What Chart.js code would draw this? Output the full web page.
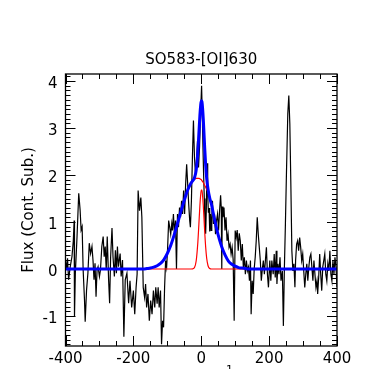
<!DOCTYPE html>
<html><head><meta charset="utf-8">
<script src="https://cdn.jsdelivr.net/npm/chart.js@4"></script>
<style>html,body{margin:0;padding:0;background:#fff}#wrap{width:377px;height:369px}</style>
</head><body><div id="wrap"><canvas id="c" width="377" height="369"></canvas></div>
<script>
const chartTitle = 'SO583-[OI]630';
const yTitle = 'Flux (Cont. Sub.)';
const xTitleMain = 'Velocity (km s';
const xTitleSup = '-1';
const xTickValues = [-400, -200, 0, 200, 400];
const yTickValues = [-1, 0, 1, 2, 3, 4];
const xRange = [-400, 400];
const yRange = [-1.638, 4.149];

const spectrumVel = [
-400,-397,-394,-391,-386,-381,-377,-374.5,-373.5,-371,-366,-361,-357,-354,-351,-348,-344,-342,-338,-334,
-330,-326,-322,-319,-316,-313,-310,-307,-304,-300,-297,-293,-289,-286,-283,-280,-277,-273,-270,-267,
-263,-260,-256,-253,-250,-247,-244,-239,-236,-232,-228,-224,-219,-214,
-210,-205,-200,-196,-192,-189,-186,-182,-178,-175,-171,-167,-164,-161,-157,-153,-149,-145,-141,-137,
-134,-130,-127,-124,-120,-117,-114,-111,-108,-105,-102,-99,-96,-93,-90,-87,-85,-82,-79,-76,
-73,-70,-67,-64,-61,-58,-55,-52,-49,-46,-43,-40,-37,-34,-32,-29,-26,-23,-20,-17,
-14,-11,-8,-5,-2,1,3,5,7,9,11,13,15,17,19,21,23,25,27,29,
31,33,36,39,42,45,48,51,54,57,59,60.5,62,64,67,70,73,76,79,82,
85,88,91,94,97,100,103,106,109,112,115,118,121,124,127,130,133,136,139,142,
145,147,150,153,156,159,162,165,168,171,174,177,180,183,186,189,192,
195,198,202,205,208,212,215,218,221,223,226,229,232,235,239,242,245,248,251,255,
258,261,264,267,270,273,276,278,281,284,287,290,293,296,299,302,305,308,311,314,
317,320,323,326,329,332,335,338,341,343,346,349,352,355,358,361,364,367,370,373,
376,379,382,385,388,391,394,397,400];
const spectrumFlux = [
0.19,-0.02,0.23,-0.23,0.05,0.26,0.60,1.03,-1.01,-0.09,0.69,1.61,1.26,0.83,0.90,-0.02,-0.66,-1.12,-0.45,-0.09,
0.55,0.33,0.48,0.19,-0.23,0.12,-0.59,-0.02,0.05,-0.16,-0.02,0.48,0.69,0.26,0.48,-0.02,0.69,-0.23,-0.73,0.26,
0.87,0.26,-0.16,0.40,-0.09,0.48,0.05,0.33,-0.16,0.19,-1.44,-0.23,-0.09,-0.73,
-0.25,-0.82,-0.46,-0.96,-0.39,-0.11,1.67,1.24,1.52,1.10,-0.39,-0.60,-0.32,-0.82,-0.53,-1.10,-0.67,-0.96,-0.46,-0.82,
-0.39,-0.74,-0.39,-0.82,-0.46,-1.60,-1.10,-1.24,-0.39,0.18,0.04,0.46,1.03,0.89,0.74,0.96,0.82,1.17,0.74,1.03,
0.00,1.17,0.89,1.31,1.10,1.45,1.17,1.67,1.17,1.81,2.23,1.81,1.38,1.03,0.89,1.45,2.38,3.16,2.38,2.02,
2.30,2.73,2.16,2.60,3.30,3.90,3.30,2.60,2.00,1.50,1.00,0.75,1.30,2.25,1.60,1.20,1.30,0.80,1.17,0.82,
1.10,1.45,0.96,1.17,0.74,1.03,1.17,0.82,1.24,1.57,1.30,0.00,1.33,1.10,1.31,0.82,1.10,0.60,0.74,0.46,
0.53,0.32,0.46,0.20,-1.10,0.82,0.67,0.83,0.39,0.76,0.60,0.18,0.53,0.04,0.25,-0.11,0.18,-0.04,0.04,-0.25,
0.18,-0.96,-0.25,-0.53,0.00,0.25,0.60,1.10,0.74,0.46,0.18,-0.25,0.00,0.18,-0.11,0.18,0.46,
-0.11,-0.39,0.18,-0.25,0.18,-0.11,0.32,-0.18,0.39,-0.32,0.11,-0.11,0.25,-0.25,-0.04,-1.21,0.04,0.96,2.02,3.30,
3.69,3.09,1.81,0.39,-0.04,0.11,-0.39,0.18,0.53,0.60,0.39,0.67,0.46,0.18,0.32,-0.04,-0.39,-0.11,0.11,-0.25,
0.04,0.25,0.32,0.04,-0.25,0.18,-0.11,-0.39,-0.25,-0.53,-0.18,0.32,-0.11,-0.46,0.04,0.18,0.32,-0.11,-0.25,0.11,
-0.04,0.39,-0.11,-0.25,0.18,-0.11,0.25,0.04,-0.39];

const modelVel = [-400,-170,-160,-150,-140,-130,-120,-110,-100,-90,
-80,-70,-60,-50,-40,-30,-25,-20,-15,-10,
-7,-4,-2,0,2,4,6,8,10,13,
16,20,25,30,35,40,50,60,70,80,
90,100,110,120,130,140,150,400];
const broadFlux = [0,0,0.01,0.02,0.04,0.07,0.12,0.2,0.33,0.5,
0.72,0.97,1.22,1.46,1.68,1.83,1.88,1.91,1.93,1.93,
1.93,1.92,1.91,1.9,1.88,1.86,1.84,1.81,1.78,1.74,
1.7,1.63,1.5,1.38,1.2,1.03,0.72,0.48,0.3,0.17,
0.1,0.06,0.03,0.02,0.01,0,0,0];
const narrowFlux = [0,0,0,0,0,0,0,0,0,0,
0,0,0,0,0,0,0.004,0.03,0.17,0.57,
0.95,1.35,1.55,1.68,1.68,1.55,1.35,1.09,0.82,0.47,
0.23,0.07,0.01,0,0,0,0,0,0,0,
0,0,0,0,0,0,0,0];
const totalFlux = [0,0,0.01,0.02,0.04,0.07,0.12,0.2,0.33,0.5,
0.72,0.97,1.22,1.46,1.68,1.83,1.88,1.94,2.10,2.50,
2.88,3.27,3.46,3.58,3.56,3.41,3.19,2.90,2.60,2.21,
1.93,1.70,1.51,1.38,1.2,1.03,0.72,0.48,0.3,0.17,
0.1,0.06,0.03,0.02,0.01,0,0,0];

const pts = (xs, ys) => xs.map((v, i) => ({x: v, y: ys[i]}));
const FONT = 'DejaVu Sans';

const framePlugin = {
  id: 'frame',
  beforeDatasetsDraw(chart) {
    const {ctx, chartArea: a, scales: {x, y}} = chart;
    ctx.save();
    ctx.strokeStyle = '#000';
    ctx.lineWidth = 1;
    ctx.beginPath();
    for (let v = xRange[0]; v <= xRange[1]; v += 50) {
      const px = Math.round(x.getPixelForValue(v)) + 0.5;
      const L = (v % 200 === 0) ? 10 : 5;
      ctx.moveTo(px, a.bottom); ctx.lineTo(px, a.bottom - L);
      ctx.moveTo(px, a.top); ctx.lineTo(px, a.top + L);
    }
    for (let i = -16; i <= 41; i++) {
      const py = Math.round(y.getPixelForValue(i / 10)) + 0.5;
      const L = (i % 10 === 0) ? 10 : 5;
      ctx.moveTo(a.left, py); ctx.lineTo(a.left + L, py);
      ctx.moveTo(a.right, py); ctx.lineTo(a.right - L, py);
    }
    ctx.stroke();
    ctx.restore();
  },
  afterDraw(chart) {
    const {ctx, chartArea: a} = chart;
    ctx.save();
    ctx.strokeStyle = '#000';
    ctx.lineWidth = 1.3;
    ctx.strokeRect(a.left, a.top, a.right - a.left, a.bottom - a.top);
    ctx.fillStyle = '#000';
    ctx.font = '15px "' + FONT + '"';
    ctx.textAlign = 'center';
    ctx.textBaseline = 'alphabetic';
    ctx.fillText(chartTitle, (a.left + a.right) / 2, 64);
    // x-axis title (falls mostly below the visible canvas)
    ctx.textAlign = 'right';
    ctx.fillText(xTitleMain, 226, 388);
    ctx.font = '11px "' + FONT + '"';
    ctx.textAlign = 'left';
    ctx.textBaseline = 'top';
    ctx.fillText(xTitleSup, 222, 365);
    ctx.restore();
  }
};

new Chart(document.getElementById('c'), {
  type: 'line',
  data: {
    datasets: [
      {data: pts(modelVel, totalFlux), borderColor: '#0000ff', borderWidth: 3, pointRadius: 0, cubicInterpolationMode: 'monotone', order: 1},
      {data: pts(modelVel, broadFlux), borderColor: '#ff0000', borderWidth: 1.2, pointRadius: 0, cubicInterpolationMode: 'monotone', order: 2},
      {data: pts(modelVel, narrowFlux), borderColor: '#ff0000', borderWidth: 1.2, pointRadius: 0, cubicInterpolationMode: 'monotone', order: 3},
      {data: pts(spectrumVel, spectrumFlux), borderColor: '#000000', borderWidth: 1.2, pointRadius: 0, tension: 0, order: 4}
    ]
  },
  options: {
    responsive: false,
    animation: false,
    devicePixelRatio: 1,
    layout: {padding: {top: 74, right: 40, left: 0, bottom: 0}},
    plugins: {legend: {display: false}, tooltip: {enabled: false}, title: {display: false}},
    scales: {
      x: {
        type: 'linear', min: xRange[0], max: xRange[1],
        grid: {display: false, drawTicks: false},
        border: {display: false},
        afterBuildTicks: s => { s.ticks = xTickValues.map(v => ({value: v})); },
        afterFit: s => { s.height = 23; },
        ticks: {color: '#000', font: {family: FONT, size: 15}, padding: 4, maxRotation: 0, autoSkip: false}
      },
      y: {
        type: 'linear', min: yRange[0], max: yRange[1],
        grid: {display: false, drawTicks: false},
        border: {display: false},
        afterBuildTicks: s => { s.ticks = yTickValues.map(v => ({value: v})); },
        afterFit: s => { s.width = 65.5; },
        ticks: {color: '#000', font: {family: FONT, size: 15}, padding: 8, labelOffset: 3, autoSkip: false},
        title: {display: true, text: yTitle, color: '#000', font: {family: FONT, size: 15}, padding: {top: 20, bottom: 0}}
      }
    }
  },
  plugins: [framePlugin]
});
</script></body></html>
